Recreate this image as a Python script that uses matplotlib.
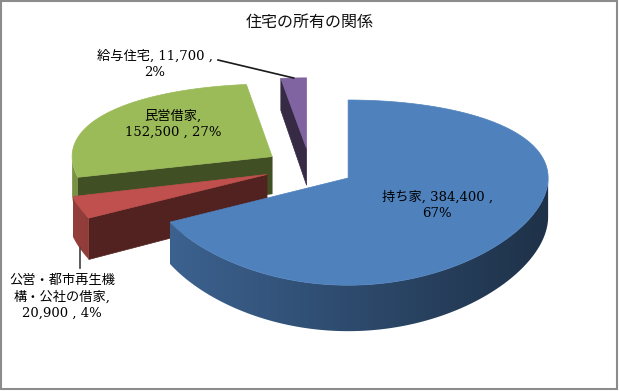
import numpy as np
import matplotlib.pyplot as plt
from matplotlib.colors import to_rgb
from matplotlib.patches import Polygon, Rectangle

plt.rcParams['font.family'] = ['DejaVu Serif', 'Noto Sans CJK JP']

title = '住宅の所有の関係'
categories = ['持ち家', '公営・都市再生機構・公社の借家', '民営借家', '給与住宅']
values = [384400, 20900, 152500, 11700]
colors = ['#4F81BD', '#C0504D', '#9BBB59', '#8064A2']

total = sum(values)
pcts = [round(v / total * 100) for v in values]
label_texts = [
    f'{categories[0]}, {values[0]:,} ,\n{pcts[0]}%',
    '公営・都市再生機\n構・公社の借家,\n' + f'{values[1]:,} , {pcts[1]}%',
    f'{categories[2]},\n{values[2]:,} , {pcts[2]}%',
    f'{categories[3]}, {values[3]:,} ,\n{pcts[3]}%',
]

# layout (pixels, y down)
W, H = 619, 391
cx, cy = 309.5, 167.5      # pie centre
rx, ry = 200, 87           # top ellipse radii
k = 0.155                  # fake perspective
depth = 38                 # pie thickness
explode = 0.2265
label_pos = [(437, 205), (62, 297), (173, 124), (155, 64)]


def proj(u, v, bottom=False):
    s = 1 / (1 - k * v)
    return cx + rx * u, cy + ry * v * s + (depth * s if bottom else 0)


def area(pts):
    x = np.array([p[0] for p in pts])
    y = np.array([p[1] for p in pts])
    return 0.5 * np.sum(x * np.roll(y, -1) - np.roll(x, -1) * y)


fig = plt.figure(figsize=(W / 100, H / 100), dpi=100)
ax = fig.add_axes([0, 0, 1, 1])
ax.axis('off')

spans = [360 * v / total for v in values]
starts = np.concatenate([[0], np.cumsum(spans)[:-1]])

slices = []
for i in range(len(values)):
    a, b = starts[i], starts[i] + spans[i]
    mid = np.radians((a + b) / 2)
    du, dv = explode * np.sin(mid), -explode * np.cos(mid)
    phi = np.radians(np.linspace(a, b, max(int(spans[i] * 2), 8)))
    arc = [(du + np.sin(p), dv - np.cos(p)) for p in phi]
    slices.append(dict(i=i, apex=(du, dv), arc=arc, mid=mid))

z = 1
# back to front
order = sorted(range(len(slices)), key=lambda j: slices[j]['apex'][1])
for j in order:
    sl = slices[j]
    col = np.array(to_rgb(colors[sl['i']]))
    apex = sl['apex']
    arc = sl['arc']
    # cut faces
    for P, Q in [(apex, arc[0]), (arc[-1], apex)]:
        quad = [proj(*P), proj(*Q), proj(*Q, True), proj(*P, True)]
        if area(quad) < -1e-6:
            fc = col * 0.42
            ax.add_patch(Polygon(quad, closed=True, fc=fc, ec=fc, lw=0.5, zorder=z))
            z += 1
    # outer wall, visible runs, with a horizontal gradient
    vis = [area([proj(*arc[n]), proj(*arc[n + 1]), proj(*arc[n + 1], True), proj(*arc[n], True)]) < 0
           for n in range(len(arc) - 1)]
    runs, cur = [], []
    for n, ok in enumerate(vis):
        if ok:
            if not cur:
                cur = [n]
            cur.append(n + 1)
        elif cur:
            runs.append(cur)
            cur = []
    if cur:
        runs.append(cur)
    ax_x = proj(*apex)[0]
    for run in runs:
        tops = [proj(*arc[n]) for n in run]
        bots = [proj(*arc[n], True) for n in run[::-1]]
        wall = Polygon(tops + bots, closed=True, fc='none', ec='none')
        ax.add_patch(wall)
        xs = [p[0] for p in tops + bots]
        ys = [p[1] for p in tops + bots]
        x0, x1 = min(xs), max(xs)
        gx = np.linspace(x0, x1, 200)
        un = np.clip((gx - ax_x) / rx, -1, 1)
        f = 0.58 - 0.2 * un
        img = (col[None, :] * f[:, None])[None, :, :]
        im = ax.imshow(img, extent=[x0, x1, max(ys) + 1, min(ys) - 1], aspect='auto',
                       interpolation='bilinear', zorder=z)
        im.set_clip_path(wall)
        z += 1
    top = [proj(*apex)] + [proj(*p) for p in arc]
    ax.add_patch(Polygon(top, closed=True, fc=col, ec=col, lw=0.5, zorder=z))
    z += 1

# leader lines
ps = slices[3]
x1, y1 = proj(ps['apex'][0] + np.sin(ps['mid']), ps['apex'][1] - np.cos(ps['mid']))
ax.plot([218, x1], [60, y1], color='#1a1a1a', lw=1.2, zorder=z)
rs = slices[1]
x1, y1 = proj(rs['apex'][0] + np.sin(rs['mid']), rs['apex'][1] - np.cos(rs['mid']), True)
ax.plot([x1, x1], [y1, y1 + 20], color='#404040', lw=1.2, zorder=z)

for t, (x, y) in zip(label_texts, label_pos):
    ax.text(x, y, t, ha='center', va='center', multialignment='center',
            fontsize=9.5, linespacing=1.35, color='black', zorder=z + 1)

ax.text(W / 2, 22, title, ha='center', va='center', fontsize=11.5,
        color='#111111', family=['Noto Sans CJK JP'], zorder=z + 1)

ax.add_patch(Rectangle((1, 1), W - 3, H - 3, fill=False, ec='#8c8c8c', lw=1.5, zorder=z + 2))

ax.set_xlim(0, W)
ax.set_ylim(H, 0)
fig.savefig('out.png', dpi=100)
